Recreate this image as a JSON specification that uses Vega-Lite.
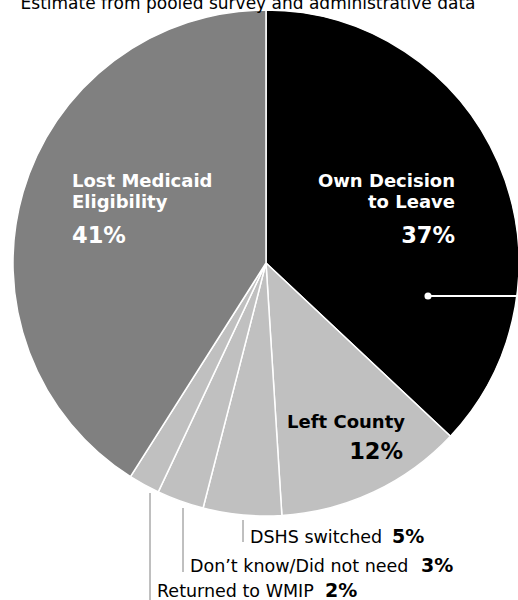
{
  "$schema": "https://vega.github.io/schema/vega-lite/v6.json",
  "width": 518,
  "height": 600,
  "padding": 0,
  "autosize": {"type": "none"},
  "background": "white",
  "config": {"view": {"stroke": null}},
  "datasets": {
    "slices": [
      {"category": "Own Decision to Leave", "share": 37, "order": 1},
      {"category": "Left County", "share": 12, "order": 2},
      {"category": "DSHS switched", "share": 5, "order": 3},
      {"category": "Don’t know/Did not need", "share": 3, "order": 4},
      {"category": "Returned to WMIP", "share": 2, "order": 5},
      {"category": "Lost Medicaid Eligibility", "share": 41, "order": 6}
    ],
    "inlabels": [
      {"group": "left", "kind": "name", "text": "Lost Medicaid", "x": 72, "y": 187, "dark": false},
      {"group": "left", "kind": "name", "text": "Eligibility", "x": 72, "y": 208, "dark": false},
      {"group": "left", "kind": "pct", "text": "41%", "x": 72, "y": 243, "dark": false},
      {"group": "right", "kind": "name", "text": "Own Decision", "x": 455, "y": 187, "dark": false},
      {"group": "right", "kind": "name", "text": "to Leave", "x": 455, "y": 208, "dark": false},
      {"group": "right", "kind": "pct", "text": "37%", "x": 455, "y": 243, "dark": false},
      {"group": "right", "kind": "name", "text": "Left County", "x": 405, "y": 428, "dark": true},
      {"group": "right", "kind": "pct", "text": "12%", "x": 403, "y": 459, "dark": true}
    ],
    "outlabels": [
      {"name": "DSHS switched", "pct": "5%", "x": 250, "px": 392, "y": 543},
      {"name": "Don’t know/Did not need", "pct": "3%", "x": 190, "px": 421, "y": 572},
      {"name": "Returned to WMIP", "pct": "2%", "x": 157, "px": 325, "y": 597}
    ],
    "leaders": [
      {"x": 243, "y1": 520, "y2": 542},
      {"x": 183, "y1": 508, "y2": 572},
      {"x": 150, "y1": 493, "y2": 600}
    ],
    "pointer": [
      {"x": 428, "x2": 518, "y": 296}
    ],
    "title": [
      {"text": "Estimate from pooled survey and administrative data", "x": 248, "y": 9}
    ]
  },
  "layer": [
    {
      "data": {"name": "slices"},
      "mark": {"type": "arc", "radius": 253, "stroke": "white", "strokeWidth": 1.5},
      "encoding": {
        "x": {"datum": 266, "type": "quantitative", "scale": {"domain": [0, 518], "nice": false, "zero": false}, "axis": null},
        "y": {"datum": 263, "type": "quantitative", "scale": {"domain": [0, 600], "reverse": true, "nice": false, "zero": false}, "axis": null},
        "theta": {"field": "share", "type": "quantitative", "stack": true},
        "order": {"field": "order", "type": "quantitative"},
        "color": {
          "field": "category", "type": "nominal", "legend": null,
          "scale": {
            "domain": ["Own Decision to Leave", "Left County", "DSHS switched", "Don’t know/Did not need", "Returned to WMIP", "Lost Medicaid Eligibility"],
            "range": ["#000000", "#c0c0c0", "#c0c0c0", "#c0c0c0", "#c0c0c0", "#808080"]
          }
        }
      }
    },
    {
      "data": {"name": "pointer"},
      "mark": {"type": "rule", "color": "white", "strokeWidth": 2},
      "encoding": {
        "x": {"field": "x", "type": "quantitative", "scale": {"domain": [0, 518], "nice": false, "zero": false}, "axis": null},
        "x2": {"field": "x2"},
        "y": {"field": "y", "type": "quantitative", "scale": {"domain": [0, 600], "reverse": true, "nice": false, "zero": false}, "axis": null}
      }
    },
    {
      "data": {"name": "pointer"},
      "mark": {"type": "point", "filled": true, "color": "white", "opacity": 1, "size": 50},
      "encoding": {
        "x": {"field": "x", "type": "quantitative", "scale": {"domain": [0, 518], "nice": false, "zero": false}, "axis": null},
        "y": {"field": "y", "type": "quantitative", "scale": {"domain": [0, 600], "reverse": true, "nice": false, "zero": false}, "axis": null}
      }
    },
    {
      "data": {"name": "leaders"},
      "mark": {"type": "rule", "color": "#808080", "strokeWidth": 1},
      "encoding": {
        "x": {"field": "x", "type": "quantitative", "scale": {"domain": [0, 518], "nice": false, "zero": false}, "axis": null},
        "y": {"field": "y1", "type": "quantitative", "scale": {"domain": [0, 600], "reverse": true, "nice": false, "zero": false}, "axis": null},
        "y2": {"field": "y2"}
      }
    },
    {
      "data": {"name": "inlabels"},
      "transform": [{"filter": "datum.group == 'left' && datum.kind == 'name'"}],
      "mark": {"type": "text", "align": "left", "baseline": "alphabetic", "font": "DejaVu Sans", "fontWeight": "bold", "fontSize": 18},
      "encoding": {
        "x": {"field": "x", "type": "quantitative", "scale": {"domain": [0, 518], "nice": false, "zero": false}, "axis": null},
        "y": {"field": "y", "type": "quantitative", "scale": {"domain": [0, 600], "reverse": true, "nice": false, "zero": false}, "axis": null},
        "text": {"field": "text"},
        "color": {"condition": {"test": "datum.dark", "value": "#000000"}, "value": "#ffffff"}
      }
    },
    {
      "data": {"name": "inlabels"},
      "transform": [{"filter": "datum.group == 'left' && datum.kind == 'pct'"}],
      "mark": {"type": "text", "align": "left", "baseline": "alphabetic", "font": "DejaVu Sans", "fontWeight": "bold", "fontSize": 22.5},
      "encoding": {
        "x": {"field": "x", "type": "quantitative", "scale": {"domain": [0, 518], "nice": false, "zero": false}, "axis": null},
        "y": {"field": "y", "type": "quantitative", "scale": {"domain": [0, 600], "reverse": true, "nice": false, "zero": false}, "axis": null},
        "text": {"field": "text"},
        "color": {"condition": {"test": "datum.dark", "value": "#000000"}, "value": "#ffffff"}
      }
    },
    {
      "data": {"name": "inlabels"},
      "transform": [{"filter": "datum.group == 'right' && datum.kind == 'name'"}],
      "mark": {"type": "text", "align": "right", "baseline": "alphabetic", "font": "DejaVu Sans", "fontWeight": "bold", "fontSize": 18},
      "encoding": {
        "x": {"field": "x", "type": "quantitative", "scale": {"domain": [0, 518], "nice": false, "zero": false}, "axis": null},
        "y": {"field": "y", "type": "quantitative", "scale": {"domain": [0, 600], "reverse": true, "nice": false, "zero": false}, "axis": null},
        "text": {"field": "text"},
        "color": {"condition": {"test": "datum.dark", "value": "#000000"}, "value": "#ffffff"}
      }
    },
    {
      "data": {"name": "inlabels"},
      "transform": [{"filter": "datum.group == 'right' && datum.kind == 'pct'"}],
      "mark": {"type": "text", "align": "right", "baseline": "alphabetic", "font": "DejaVu Sans", "fontWeight": "bold", "fontSize": 22.5},
      "encoding": {
        "x": {"field": "x", "type": "quantitative", "scale": {"domain": [0, 518], "nice": false, "zero": false}, "axis": null},
        "y": {"field": "y", "type": "quantitative", "scale": {"domain": [0, 600], "reverse": true, "nice": false, "zero": false}, "axis": null},
        "text": {"field": "text"},
        "color": {"condition": {"test": "datum.dark", "value": "#000000"}, "value": "#ffffff"}
      }
    },
    {
      "data": {"name": "outlabels"},
      "mark": {"type": "text", "align": "left", "baseline": "alphabetic", "font": "DejaVu Sans", "fontSize": 17.5, "color": "#000000"},
      "encoding": {
        "x": {"field": "x", "type": "quantitative", "scale": {"domain": [0, 518], "nice": false, "zero": false}, "axis": null},
        "y": {"field": "y", "type": "quantitative", "scale": {"domain": [0, 600], "reverse": true, "nice": false, "zero": false}, "axis": null},
        "text": {"field": "name"}
      }
    },
    {
      "data": {"name": "outlabels"},
      "mark": {"type": "text", "align": "left", "baseline": "alphabetic", "font": "DejaVu Sans", "fontWeight": "bold", "fontSize": 19, "color": "#000000"},
      "encoding": {
        "x": {"field": "px", "type": "quantitative", "scale": {"domain": [0, 518], "nice": false, "zero": false}, "axis": null},
        "y": {"field": "y", "type": "quantitative", "scale": {"domain": [0, 600], "reverse": true, "nice": false, "zero": false}, "axis": null},
        "text": {"field": "pct"}
      }
    },
    {
      "data": {"name": "title"},
      "mark": {"type": "text", "align": "center", "baseline": "alphabetic", "font": "DejaVu Sans", "fontSize": 17, "color": "#000000"},
      "encoding": {
        "x": {"field": "x", "type": "quantitative", "scale": {"domain": [0, 518], "nice": false, "zero": false}, "axis": null},
        "y": {"field": "y", "type": "quantitative", "scale": {"domain": [0, 600], "reverse": true, "nice": false, "zero": false}, "axis": null},
        "text": {"field": "text"}
      }
    }
  ]
}
